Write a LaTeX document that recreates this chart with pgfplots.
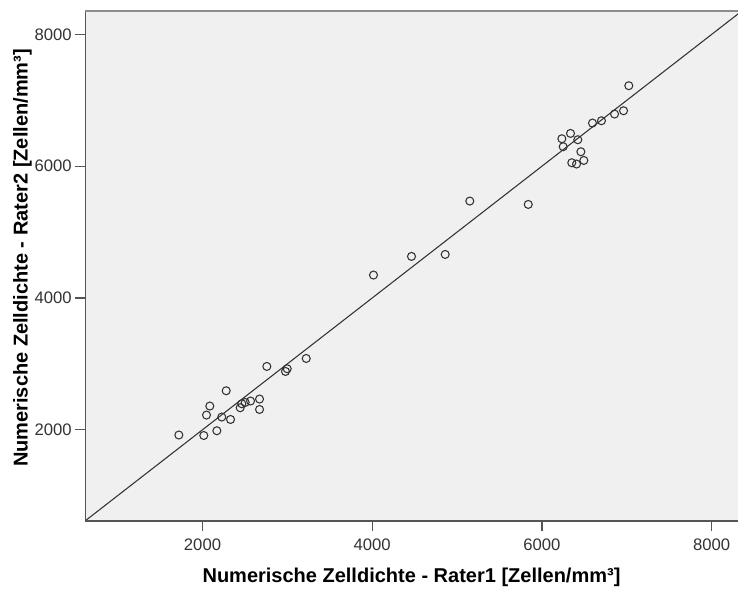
\documentclass[border=0pt]{standalone}
\usepackage{fontspec}
\setmainfont{Liberation Sans}
\usepackage{pgfplots}
\pgfplotsset{compat=1.18}
\usetikzlibrary{calc}
\definecolor{bgfill}{HTML}{F0F0F0}
\definecolor{axisdark}{HTML}{555555}
\definecolor{axistop}{HTML}{8C8C8C}
\definecolor{markc}{HTML}{333333}
\definecolor{ticktext}{HTML}{333333}
\begin{document}
\begin{tikzpicture}
\begin{axis}[
  scale only axis,
  width=489.75pt, height=382.5pt,
  xmin=615, xmax=8311, ymin=615, ymax=8356,
  axis background/.style={fill=bgfill},
  axis line style={draw=none},
  xtick={2000,4000,6000,8000},
  ytick={2000,4000,6000,8000},
  xtick pos=bottom, ytick pos=left,
  tick align=outside,
  major tick length=7.5pt,
  tick style={draw=axisdark, line width=0.9pt},
  /pgf/number format/1000 sep={},
  /pgf/number format/assume math mode=true,
  every tick label/.append style={font=\fontsize{12.5pt}{15pt}\selectfont, text=ticktext},
  xticklabel style={anchor=center, yshift=-10pt},
  yticklabel style={anchor=east, xshift=1pt},
  xlabel={\textbf{Numerische Zelldichte - Rater1 [Zellen/mm³]}},
  ylabel={\textbf{Numerische Zelldichte - Rater2 [Zellen/mm³]}},
  label style={font=\fontsize{15pt}{18pt}\selectfont},
  xlabel style={at={(axis description cs:0.5,0)}, anchor=center, yshift=-42pt},
  ylabel style={at={(axis description cs:0,0.5)}, anchor=center, yshift=47pt, xshift=6pt},
  clip=true,
]
\addplot[draw=markc, line width=0.8pt] coordinates {(615,615) (8400,8400)};
\addplot[only marks, mark=o, mark size=3pt, draw=markc, mark options={line width=0.8pt, draw=markc}] coordinates {
(7024,7222) (6962,6842) (6856,6792) (6702,6690) (6596,6655)
(6337,6498) (6235,6417) (6423,6402) (6251,6296) (6459,6220)
(6494,6088) (6352,6053) (6408,6033) (5150,5471) (5839,5420)
(4860,4661) (4463,4631) (4015,4348)
(3222,3082) (2758,2961) (2998,2926) (2978,2885) (2279,2592)
(2672,2466) (2566,2436) (2503,2414) (2463,2395) (2444,2334)
(2086,2360) (2047,2223) (2227,2193) (2330,2156) (2672,2308)
(1721,1920) (2015,1913) (2169,1985)
};
\draw[axisdark, line width=1.5pt] (rel axis cs:0,0) -- (rel axis cs:0,1);
\draw[axisdark, line width=1.8pt] (rel axis cs:0,0) -- (rel axis cs:1,0);
\draw[axistop, line width=1.8pt] (rel axis cs:0,1) -- (rel axis cs:1,1);
\end{axis}
\pgfresetboundingbox
\path ($(current axis.south west)+(-63.75pt,-51.2pt)$) rectangle ($(current axis.north east)+(0pt,8.25pt)$);
\end{tikzpicture}
\end{document}
